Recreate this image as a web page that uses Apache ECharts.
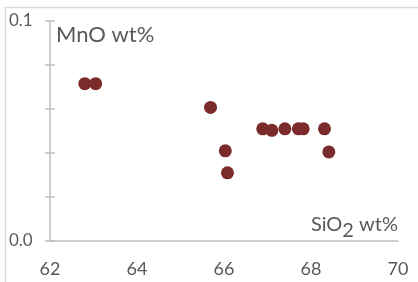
<!DOCTYPE html>
<html>
<head>
<meta charset="utf-8">
<script src="https://cdn.jsdelivr.net/npm/echarts@6/dist/echarts.min.js"></script>
<style>
  html, body { margin: 0; padding: 0; background: #fff; }
  #chart { width: 418px; height: 282px; }
</style>
</head>
<body>
<div id="chart"></div>
<script>
// SiO2 wt% vs MnO wt%
const sio2 = [62.8, 63.05, 65.69, 66.03, 66.08, 66.89, 67.1, 67.4, 67.71, 67.82, 68.31, 68.41];
const mno = [0.0715, 0.0715, 0.0607, 0.041, 0.031, 0.051, 0.0503, 0.051, 0.051, 0.051, 0.051, 0.0405];
const xTicks = [62, 64, 66, 68, 70];
const yLabels = [0, 0.1];

const textColor = '#595959';
const axisColor = '#BFBFBF';
const dotColor = '#7B2B2B';
const fontName = 'Lato';

let points = [];
for (let i = 0; i < sio2.length; i++) {
  points.push([sio2[i], mno[i]]);
}

const chart = echarts.init(document.getElementById('chart'));
const option = {
  animation: false,
  textStyle: {fontFamily: fontName},
  grid: {left: 50, right: 20, top: 21, bottom: 41},
  graphic: [
    {
      type: 'rect',
      silent: true,
      shape: {x: 5.5, y: 7.5, width: 600, height: 400},
      style: {fill: 'none', stroke: '#D9D9D9', lineWidth: 1.5}
    },
    {
      type: 'text',
      left: 56,
      top: 24,
      style: {text: 'MnO wt%', fill: textColor, fontSize: 22, fontFamily: fontName}
    },
    {
      type: 'text',
      right: 20,
      top: 215,
      style: {
        text: '{a|SiO}{s|2}{a| wt%}',
        fill: textColor,
        fontFamily: fontName,
        rich: {
          a: {fontSize: 20, fill: textColor, fontFamily: fontName, verticalAlign: 'top', lineHeight: 22},
          s: {fontSize: 20, fill: textColor, fontFamily: fontName, verticalAlign: 'bottom', lineHeight: 26}
        }
      }
    }
  ],
  xAxis: {
    type: 'value',
    min: xTicks[0],
    max: xTicks[xTicks.length - 1],
    interval: 2,
    axisLine: {show: true, onZero: false, lineStyle: {color: axisColor, width: 1.5}},
    axisTick: {show: false},
    splitLine: {show: false},
    axisLabel: {color: textColor, fontSize: 18, margin: 19, fontFamily: fontName}
  },
  yAxis: [
    {
      type: 'value',
      min: 0,
      max: 0.1,
      interval: 0.02,
      axisLine: {show: true, lineStyle: {color: axisColor, width: 1.5}},
      axisTick: {show: true, length: 5, lineStyle: {color: axisColor, width: 1.5}},
      splitLine: {show: false},
      axisLabel: {
        color: textColor,
        fontSize: 17,
        margin: 41,
        align: 'left',
        fontFamily: fontName,
        formatter: function (v) {
          for (let i = 0; i < yLabels.length; i++) {
            if (Math.abs(v - yLabels[i]) < 1e-9) return v.toFixed(1);
          }
          return '';
        }
      }
    },
    {
      type: 'value',
      position: 'left',
      min: 0,
      max: 0.1,
      interval: 0.02,
      axisLine: {show: false},
      axisTick: {show: true, inside: true, length: 5, lineStyle: {color: axisColor, width: 1.5}},
      splitLine: {show: false},
      axisLabel: {show: false}
    }
  ],
  series: [
    {
      name: 'MnO',
      type: 'scatter',
      symbolSize: 13,
      data: points,
      itemStyle: {color: dotColor, opacity: 1}
    }
  ]
};
chart.setOption(option);
</script>
</body>
</html>
